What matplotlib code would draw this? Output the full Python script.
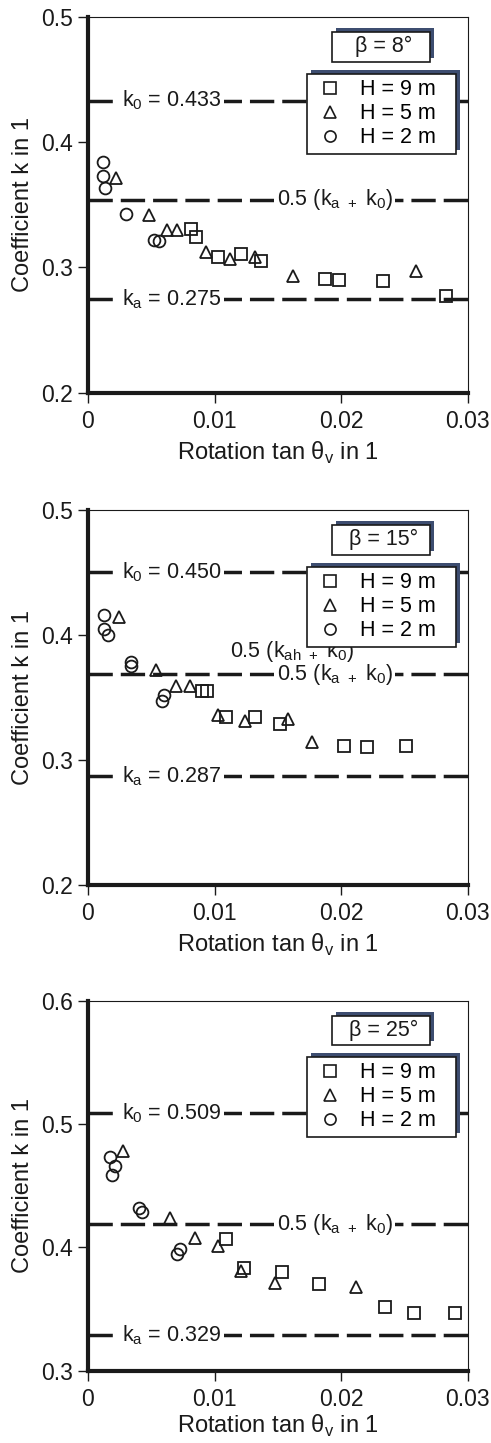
import matplotlib
matplotlib.use('Agg')
import matplotlib.pyplot as plt
import matplotlib.patheffects as pe
from matplotlib.patches import Rectangle
from matplotlib.lines import Line2D

plt.rcParams['font.family'] = ['Liberation Sans', 'DejaVu Sans']
plt.rcParams['mathtext.fontset'] = 'custom'
plt.rcParams['mathtext.rm'] = 'Liberation Sans'

INK = '#1a1a1a'
SHADOW = '#3d4d70'

# ---- beta = 8 deg ----
b8_x9 = [0.00814, 0.00854, 0.0103, 0.0121, 0.0137, 0.0187, 0.0198, 0.0233, 0.0283]
b8_y9 = [0.331, 0.324, 0.308, 0.311, 0.305, 0.291, 0.290, 0.289, 0.277]
b8_x5 = [0.00223, 0.00483, 0.00623, 0.00701, 0.00933, 0.0112, 0.0132, 0.0162, 0.0259]
b8_y5 = [0.371, 0.342, 0.330, 0.330, 0.312, 0.307, 0.308, 0.293, 0.297]
b8_x2 = [0.00118, 0.00116, 0.00137, 0.0030, 0.00523, 0.00565]
b8_y2 = [0.384, 0.373, 0.363, 0.343, 0.322, 0.321]

# ---- beta = 15 deg ----
b15_x9 = [0.00899, 0.00938, 0.0109, 0.0132, 0.0152, 0.0202, 0.0220, 0.0251]
b15_y9 = [0.355, 0.355, 0.334, 0.334, 0.329, 0.311, 0.310, 0.311]
b15_x5 = [0.00247, 0.00539, 0.00694, 0.00807, 0.0103, 0.0124, 0.0158, 0.0177]
b15_y5 = [0.414, 0.372, 0.359, 0.359, 0.336, 0.331, 0.333, 0.314]
b15_x2 = [0.00131, 0.00131, 0.00158, 0.00339, 0.00339, 0.00583, 0.00604]
b15_y2 = [0.416, 0.405, 0.400, 0.378, 0.375, 0.347, 0.352]

# ---- beta = 25 deg ----
b25_x9 = [0.01087, 0.0123, 0.01529, 0.01826, 0.02343, 0.02576, 0.0290]
b25_y9 = [0.4066, 0.3837, 0.380, 0.370, 0.3515, 0.347, 0.3465]
b25_x5 = [0.00278, 0.00649, 0.00848, 0.01026, 0.0121, 0.01476, 0.0212]
b25_y5 = [0.478, 0.424, 0.408, 0.401, 0.381, 0.371, 0.368]
b25_x2 = [0.00178, 0.00212, 0.00191, 0.00403, 0.00424, 0.00702, 0.00729]
b25_y2 = [0.4736, 0.4664, 0.459, 0.432, 0.429, 0.3945, 0.3985]

betas = [8, 15, 25]
k0_vals = [0.433, 0.450, 0.509]
ka_vals = [0.275, 0.287, 0.329]
y_ranges = [(0.2, 0.5), (0.2, 0.5), (0.3, 0.6)]
x_ticks = [0, 0.01, 0.02, 0.03]
x_ticklabels = ['0', '0.01', '0.02', '0.03']
series_labels = ['H = 9 m', 'H = 5 m', 'H = 2 m']
markers = ['s', '^', 'o']

panels = [
    [(b8_x9, b8_y9), (b8_x5, b8_y5), (b8_x2, b8_y2)],
    [(b15_x9, b15_y9), (b15_x5, b15_y5), (b15_x2, b15_y2)],
    [(b25_x9, b25_y9), (b25_x5, b25_y5), (b25_x2, b25_y2)],
]
# axes rectangles in figure fraction
boxes = [
    (0.179, 0.7277, 0.774, 0.2608),
    (0.179, 0.3867, 0.774, 0.2600),
    (0.179, 0.0500, 0.774, 0.2565),
]
xlabel_pads = [5, 5, 2]

fig = plt.figure(figsize=(4.91, 14.43), dpi=100)

shadow_fx = [pe.SimplePatchShadow(offset=(2.8, 2.8), shadow_rgbFace=SHADOW, alpha=1.0),
             pe.Normal()]

for i in range(3):
    ax = fig.add_axes(boxes[i])
    lo, hi = y_ranges[i]
    k0, ka = k0_vals[i], ka_vals[i]
    km = 0.5 * (k0 + ka)

    dash = dict(color=INK, lw=2.5, dashes=(7, 2.3), zorder=1)
    for kv in (k0, km, ka):
        ax.axhline(kv, **dash)

    lab = dict(fontsize=15.5, va='center', ha='left', color=INK, zorder=2,
               bbox=dict(boxstyle='square,pad=0.12', fc='white', ec='none'))
    ax.text(0.0027, k0, 'k$_\\mathregular{0}$ = %.3f' % k0, **lab)
    ax.text(0.0027, ka, 'k$_\\mathregular{a}$ = %.3f' % ka, **lab)
    ax.text(0.0149, km, '0.5 (k$_\\mathregular{a\\ +}$ k$_\\mathregular{0}$)', **lab)
    if i == 1:
        ax.text(0.0112, 0.3867, '0.5 (k$_\\mathregular{ah\\ +}$ k$_\\mathregular{0}$)',
                fontsize=15.5, va='center', ha='left', color=INK, zorder=2)

    for (xs, ys), m in zip(panels[i], markers):
        ax.plot(xs, ys, linestyle='none', marker=m, ms=8.5, mfc='none',
                mec=INK, mew=1.3, zorder=3, clip_on=False)

    ax.set_xlim(0, 0.03)
    ax.set_ylim(lo, hi)
    ax.set_xticks(x_ticks)
    ax.set_xticklabels(x_ticklabels)
    ax.set_yticks([lo, lo + 0.1, lo + 0.2, hi])
    ax.set_yticklabels(['%.1f' % v for v in [lo, lo + 0.1, lo + 0.2, hi]])
    ax.tick_params(axis='both', direction='out', length=7, width=1.0, color=INK,
                   labelsize=16.5, labelcolor=INK, pad=3.5)
    ax.tick_params(axis='x', pad=5)
    ax.spines['left'].set_linewidth(3.0)
    ax.spines['bottom'].set_linewidth(3.0)
    ax.spines['top'].set_linewidth(0.8)
    ax.spines['right'].set_linewidth(0.8)
    for s in ax.spines.values():
        s.set_color(INK)

    ax.set_xlabel('Rotation tan θ$_\\mathregular{v}$ in 1', fontsize=17, color=INK,
                  labelpad=xlabel_pads[i])
    ax.set_ylabel('Coefficient k in 1', fontsize=17, color=INK, labelpad=5)

    # beta box with offset shadow
    rect = Rectangle((0.642, 0.88), 0.258, 0.08, transform=ax.transAxes,
                     fc='white', ec=INK, lw=1.2, zorder=6)
    rect.set_path_effects(shadow_fx)
    ax.add_patch(rect)
    ax.text(0.779, 0.92, 'β = %d°' % betas[i], transform=ax.transAxes,
            fontsize=15.5, ha='center', va='center', color=INK, zorder=7)

    handles = [Line2D([], [], linestyle='none', marker=m, ms=8, mfc='none',
                      mec=INK, mew=1.2) for m in markers]
    leg = ax.legend(handles, series_labels, loc='upper left',
                    bbox_to_anchor=(0.576, 0.0, 0.392, 0.848), mode='expand',
                    borderaxespad=0, fontsize=15.5, frameon=True, fancybox=False,
                    framealpha=1, edgecolor=INK, borderpad=0.25, labelspacing=0.14,
                    handlelength=1.64, handletextpad=0.58)
    leg.get_frame().set_linewidth(1.2)
    leg.get_frame().set_path_effects(shadow_fx)
    leg.set_zorder(6)

fig.savefig('out.png', dpi=100)
